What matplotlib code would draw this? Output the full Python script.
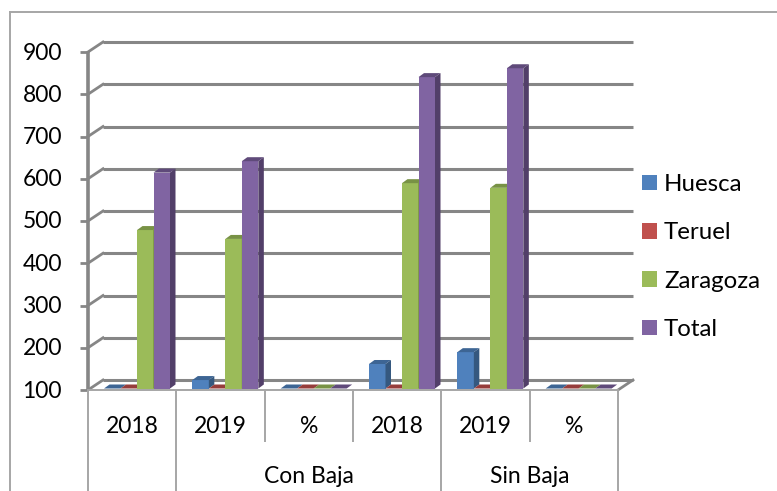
import matplotlib
matplotlib.use("Agg")
import matplotlib.pyplot as plt
from matplotlib.patches import Polygon, Patch

plt.rcParams['font.family'] = ['Lato', 'DejaVu Sans']

WIDTH, HEIGHT = 777, 491
FONT = 16.5
LEGEND_FONT = 17.3

years = ["2018", "2019", "%", "2018", "2019", "%"]
groups = ["Con Baja", "Sin Baja"]
series_names = ["Huesca", "Teruel", "Zaragoza", "Total"]

huesca = [100, 120, 100, 158, 186, 100]
teruel = [100, 100, 100, 100, 100, 100]
zaragoza = [475, 454, 100, 586, 575, 100]
total = [611, 638, 100, 837, 858, 100]
series = [huesca, teruel, zaragoza, total]

front_colors = ["#4f81bd", "#c0504d", "#9bbb59", "#8064a2"]
top_colors = ["#3d6594", "#963d3b", "#789245", "#5f4a7a"]
side_colors = ["#35587f", "#823533", "#677d3b", "#523f69"]

y_ticks = [100, 200, 300, 400, 500, 600, 700, 800, 900]
GRID = "#868686"
TABLE = "#a6a6a6"

fig = plt.figure(figsize=(WIDTH / 100, HEIGHT / 100), dpi=100)
left, right, top, bottom = 88, 618, 52, 390
ax = fig.add_axes([left / WIDTH, 1 - bottom / HEIGHT, (right - left) / WIDTH, (bottom - top) / HEIGHT])
ax.set_xlim(0, 6)
ax.set_ylim(100, 900)
ax.axis("off")

# pixels to data units
px = 6 / (right - left)
py = 800 / (bottom - top)
wall_dx, wall_dy = 15 * px, 10 * py

# floor and walls
ax.add_patch(Polygon([(0, 100), (6, 100), (6 + wall_dx, 100 + wall_dy), (wall_dx, 100 + wall_dy)],
                     closed=True, fc="white", ec="none", clip_on=False, zorder=1))
for v in y_ticks:
    ax.plot([wall_dx, 6 + wall_dx], [v + wall_dy, v + wall_dy], color=GRID, lw=2.2, clip_on=False,
            solid_capstyle="butt", zorder=1)
    ax.plot([0, wall_dx], [v, v + wall_dy], color=GRID, lw=2.0, clip_on=False, zorder=1)
    ax.plot([-8 * px, 0], [v, v], color=GRID, lw=2.0, clip_on=False, solid_capstyle="butt", zorder=1)
    ax.text(-26 * px, v - 1 * py, str(v), ha="right", va="center", fontsize=FONT, color="black", clip_on=False)
ax.plot([0, 0], [100, 900], color=GRID, lw=2.6, clip_on=False, solid_capstyle="butt", zorder=2)
ax.plot([6, 6 + wall_dx], [100, 100 + wall_dy], color=GRID, lw=2.0, clip_on=False, zorder=1)

# bars with fake 3D sides
bar_w = 16.5 * px
bar_x0 = 16 * px
depth_x, depth_y = 5.5 * px, 4 * py
base = 1.5 * py
for s, values in enumerate(series):
    xs = [i + bar_x0 + s * bar_w for i in range(6)]
    ax.bar(xs, [v - 100 for v in values], width=bar_w, bottom=100 + base, align="edge",
           color=front_colors[s], zorder=3 + s, clip_on=False)
    for x, v in zip(xs, values):
        t = v + base
        ax.add_patch(Polygon([(x, t), (x + bar_w, t), (x + bar_w + depth_x, t + depth_y), (x + depth_x, t + depth_y)],
                             closed=True, fc=top_colors[s], ec="none", zorder=3 + s, clip_on=False))
        if v > 100:
            ax.add_patch(Polygon([(x + bar_w, 100 + base), (x + bar_w + depth_x, 100 + base + depth_y),
                                  (x + bar_w + depth_x, t + depth_y), (x + bar_w, t)],
                                 closed=True, fc=side_colors[s], ec="none", zorder=3 + s, clip_on=False))

# data table style axis below the plot
ax.plot([0, 6], [100, 100], color=TABLE, lw=1.4, clip_on=False, zorder=2)
low = 100 - 52 * py
end = 100 - 101 * py
for i in range(7):
    y_end = end if i in (0, 1, 4, 6) else low
    ax.plot([i, i], [100, y_end], color=TABLE, lw=1.4, clip_on=False, solid_capstyle="butt")
for i, label in enumerate(years):
    ax.text(i + 0.5, 100 - 42.7 * py, label, ha="center", va="baseline", fontsize=FONT, clip_on=False)
ax.text(2.5, 100 - 93 * py, groups[0], ha="center", va="baseline", fontsize=FONT, clip_on=False)
ax.text(5.0, 100 - 93 * py, groups[1], ha="center", va="baseline", fontsize=FONT, clip_on=False)

handles = [Patch(fc=c, ec="none") for c in front_colors]
fig.legend(handles, series_names, loc="center left", bbox_to_anchor=(642 / WIDTH, 1 - 257 / HEIGHT),
           frameon=False, fontsize=LEGEND_FONT, handlelength=0.625, handleheight=0.625, handletextpad=0.29,
           labelspacing=1.14, borderpad=0, borderaxespad=0)

# outer chart border
border = "#a6a6a6"
fig.add_artist(plt.Line2D([9.5 / WIDTH, 9.5 / WIDTH], [0, 1 - 12 / HEIGHT], color=border, lw=1.4))
fig.add_artist(plt.Line2D([9.5 / WIDTH, 1], [1 - 12 / HEIGHT, 1 - 12 / HEIGHT], color=border, lw=1.4))

fig.savefig("out.png", dpi=100)
